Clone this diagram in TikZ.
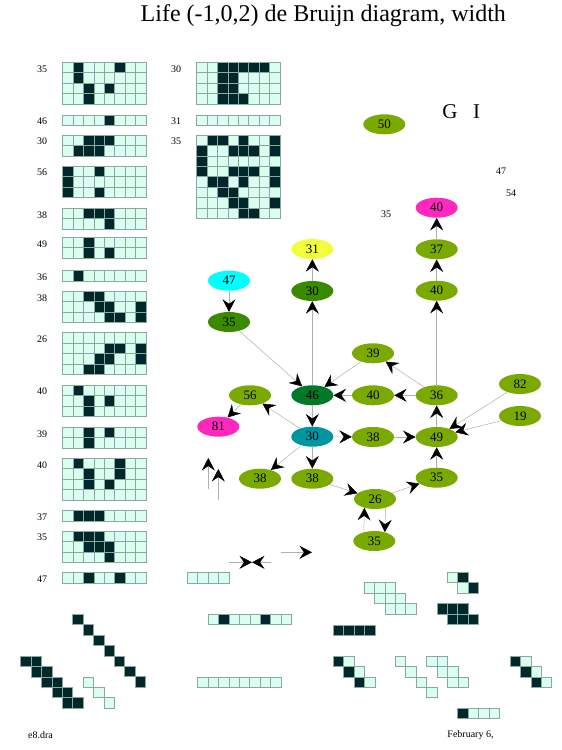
\documentclass[tikz,border=0pt]{standalone}
\usepackage{fontspec}
\setmainfont{Liberation Serif}
\usetikzlibrary{arrows.meta,shapes.geometric}
\definecolor{olivec}{RGB}{122,170,0}
\definecolor{dkgreen}{RGB}{58,138,0}
\definecolor{grn46}{RGB}{0,122,40}
\definecolor{tealc}{RGB}{0,150,160}
\definecolor{cyanc}{RGB}{0,255,255}
\definecolor{magc}{RGB}{255,40,190}
\definecolor{yelc}{RGB}{240,255,60}
\definecolor{cellL}{RGB}{218,255,240}
\definecolor{cellD}{RGB}{0,40,42}
\definecolor{cellE}{RGB}{140,168,158}
\definecolor{edgec}{RGB}{175,175,175}
\tikzset{
  lightcell/.style={fill=cellL,draw=cellE,line width=0.5pt},
  darkcell/.style={fill=cellD,draw=cellE,line width=0.5pt},
  ell/.style={ellipse,minimum width=42pt,minimum height=20pt,inner sep=0pt,font=\fontsize{13}{14}\selectfont},
  edge/.style={draw=edgec,line width=0.5pt,-{Stealth[length=12.5pt,width=13pt,inset=4.5pt,color=black]}},
  lab/.style={inner sep=0pt,font=\fontsize{10}{11}\selectfont},
}
\newcommand\cagrid[4]{%
  \foreach \rr in {1,...,#3}{\foreach \cc in {0,...,7}{\draw[lightcell] ({#1+\cc*10.4},{#2+(\rr-1)*10.4}) rectangle ++(10.4,10.4);}}%
  \foreach \cc/\rr in {#4}{\draw[darkcell] ({#1+\cc*10.4},{#2+\rr*10.4}) rectangle ++(10.4,10.4);}}
\newcommand\lightrow[3]{\foreach \cc in {1,...,#3}{\draw[lightcell] ({#1+(\cc-1)*10.4},#2) rectangle ++(10.4,10.4);}}
\newcommand\Lcell[2]{\draw[lightcell] (#1,#2) rectangle ++(10.4,10.4);}
\newcommand\Dcell[2]{\draw[darkcell] (#1,#2) rectangle ++(10.4,10.4);}
\begin{document}
\begin{tikzpicture}[x=1pt,y=-1pt]
\useasboundingbox (0,0) rectangle (562,750);
% title
\node[inner sep=0pt,font=\fontsize{24}{26}\selectfont] (title) at (323.3,16) {Life (-1,0,2) de Bruijn diagram, width};
\node[inner sep=0pt,font=\fontsize{21}{22}\selectfont] (gG) at (450,111.7) {G};
\node[inner sep=0pt,font=\fontsize{21}{22}\selectfont] (gI) at (476.7,111.7) {I};
% left grids
\def\lx{62.7}
\cagrid{\lx}{62.3}{4}{1/0,5/0,1/1,2/2,4/2,2/3}      \node[lab] (l1) at (42,68.8) {35};
\cagrid{\lx}{115}{1}{4/0}                            \node[lab] (l2) at (42,121.5) {46};
\cagrid{\lx}{135}{2}{2/0,3/0,4/0,1/1,2/1,3/1}        \node[lab] (l3) at (42,141.5) {30};
\cagrid{\lx}{166}{3}{0/0,3/0,0/1,0/2,3/2}            \node[lab] (l4) at (42,172.5) {56};
\cagrid{\lx}{208.3}{2}{2/0,3/0,4/0,4/1}              \node[lab] (l5) at (42,214.8) {38};
\cagrid{\lx}{237.3}{2}{2/0,2/1,4/1}                  \node[lab] (l6) at (42,243.8) {49};
\cagrid{\lx}{270.7}{1}{1/0}                          \node[lab] (l7) at (42,277.2) {36};
\cagrid{\lx}{291.3}{3}{2/0,3/0,3/1,4/1,7/1,4/2,5/2,7/2} \node[lab] (l8) at (42,297.8) {38};
\cagrid{\lx}{332.7}{4}{4/1,5/1,7/1,3/2,4/2,7/2,2/3,3/3} \node[lab] (l9) at (42,339.2) {26};
\cagrid{\lx}{385}{3}{1/0,2/1,4/1,2/2}                \node[lab] (l10) at (42,391.5) {40};
\cagrid{\lx}{427.3}{2}{2/0,4/0,2/1}                  \node[lab] (l11) at (42,433.8) {39};
\cagrid{\lx}{458.3}{4}{1/0,5/0,2/1,5/1,2/2,4/2}      \node[lab] (l12) at (42,464.8) {40};
\cagrid{\lx}{510.7}{1}{1/0,2/0,3/0}                  \node[lab] (l13) at (42,517.2) {37};
\cagrid{\lx}{531}{3}{1/0,2/0,3/0,2/1,3/1,4/1,4/2}    \node[lab] (l14) at (42,537.5) {35};
\cagrid{\lx}{572.7}{1}{2/0,5/0}                      \node[lab] (l15) at (42,579.2) {47};
% middle grids
\def\mx{196.7}
\cagrid{\mx}{62.3}{4}{2/0,3/0,4/0,5/0,6/0,2/1,3/1,2/2,3/2,2/3,3/3,4/3} \node[lab] (m1) at (176,68.8) {30};
\lightrow{\mx}{115}{8}                               \node[lab] (m2) at (176,121.5) {31};
\cagrid{\mx}{135}{8}{1/0,2/0,4/0,7/0,0/1,3/1,4/1,5/1,7/1,0/2,0/3,3/3,4/3,5/3,7/3,1/4,2/4,4/4,7/4,2/5,3/5,3/6,4/6,7/6,4/7,5/7}
\node[lab] (m3) at (176,141.5) {35};
% loose labels
\node[lab] (t47) at (501,171.7) {47};
\node[lab] (t54) at (511,193.3) {54};
\node[lab] (t35) at (386,214.3) {35};
\node[lab] (fn) at (40.5,735) {e8.dra};
\node[lab] (dt) at (470.5,735) {February 6,};
% graph nodes
\node[ell,fill=olivec] (n50) at (384.3,124.3) {50};
\node[ell,fill=magc] (n40m) at (436.7,207.7) {40};
\node[ell,fill=olivec] (n37) at (436.7,249.3) {37};
\node[ell,fill=olivec] (n40u) at (436.7,290.7) {40};
\node[ell,fill=yelc] (n31) at (312.3,249) {31};
\node[ell,fill=dkgreen] (n30u) at (312.3,291) {30};
\node[ell,fill=cyanc] (n47) at (229,280.7) {47};
\node[ell,fill=dkgreen] (n35u) at (229,322) {35};
\node[ell,fill=olivec] (n39) at (373,353.3) {39};
\node[ell,fill=grn46] (n46) at (312.3,395.3) {46};
\node[ell,fill=olivec] (n40) at (373,395.3) {40};
\node[ell,fill=olivec] (n36) at (436.7,395.3) {36};
\node[ell,fill=olivec] (n56) at (250,395.3) {56};
\node[ell,fill=olivec] (n82) at (520,384) {82};
\node[ell,fill=olivec] (n19) at (520,416) {19};
\node[ell,fill=magc] (n81) at (218.3,426.7) {81};
\node[ell,fill=tealc] (n30t) at (312.3,436.7) {30};
\node[ell,fill=olivec] (n38r) at (373,437) {38};
\node[ell,fill=olivec] (n49) at (436.7,437) {49};
\node[ell,fill=olivec] (n38l) at (260,478.7) {38};
\node[ell,fill=olivec] (n38m) at (312.3,478.7) {38};
\node[ell,fill=olivec] (n35r) at (436.7,477.7) {35};
\node[ell,fill=olivec] (n26) at (375,499) {26};
\node[ell,fill=olivec] (n35b) at (374.3,541) {35};
% edges
\draw[edge] (n47) -- (n35u);
\draw[edge] (n35u) -- (n46);
\draw[edge] (n46) -- (n30u);
\draw[edge] (n30u) -- (n31);
\draw[edge] (n39) -- (n46);
\draw[edge] (n40) -- (n46);
\draw[edge] (n46) -- (n30t);
\draw[edge] (n30t) -- (n56);
\draw[edge] (n56) -- (n81);
\draw[edge] (n30t) -- (n38r);
\draw[edge] (n30t) -- (n38l);
\draw[edge] (n30t) -- (n38m);
\draw[edge] (n38m) -- (n26);
\draw[edge] (n38r) -- (n49);
\draw[edge] (n36) -- (n40);
\draw[edge] (n36) -- (n39);
\draw[edge] (n36) -- (n40u);
\draw[edge] (n40u) -- (n37);
\draw[edge] (n37) -- (n40m);
\draw[edge] (n49) -- (n36);
\draw[edge] (n35r) -- (n49);
\draw[edge] (n26) -- (n35r);
\draw[edge] (n26.320) -- (n35b.40);
\draw[edge] (n35b.140) -- (n26.220);
\draw[edge] (n82) -- (n49);
\draw[edge] (n19) -- (n49);
% loose arrows
\coordinate (ua1) at (208.3,489); \coordinate (ua2) at (208.3,458);
\coordinate (ub1) at (218.3,500); \coordinate (ub2) at (218.3,469);
\draw[edge] (ua1) -- (ua2);
\draw[edge] (ub1) -- (ub2);
\coordinate (ha1) at (229.3,562.3); \coordinate (ha2) at (252,562.3);
\coordinate (hb1) at (270.5,562.3); \coordinate (hb2) at (252,562.3);
\draw[edge] (ha1) -- (ha2);
\draw[edge] (hb1) -- (hb2);
\coordinate (hc1) at (280.7,552.3); \coordinate (hc2) at (312,552.3);
\draw[edge] (hc1) -- (hc2);
% bottom patterns
\lightrow{187.3}{572.7}{4}
\cagrid{208.3}{614.3}{1}{1/0,5/0}
\lightrow{197.7}{677}{8}
\foreach \k in {0,...,6}{\Dcell{72.7+10.4*\k}{614.3+10.4*\k}}
\foreach \k in {0,...,4}{\Dcell{20.7+10.4*\k}{656+10.4*\k}\Dcell{31.1+10.4*\k}{656+10.4*\k}}
\Lcell{83.3}{677}\Lcell{93.7}{687.3}\Lcell{104}{697.7}
% stair light
\Lcell{364}{582.7}\Lcell{374.4}{582.7}\Lcell{384.8}{582.7}
\Lcell{374.4}{593.1}\Lcell{384.8}{593.1}\Lcell{395.2}{593.1}
\Lcell{384.8}{603.5}\Lcell{395.2}{603.5}\Lcell{405.6}{603.5}
% top right small
\Lcell{447.3}{572.3}\Dcell{457.7}{572.3}
\Lcell{457.7}{582.7}\Dcell{468.1}{582.7}
% dark block
\Dcell{436.9}{603.7}\Dcell{447.3}{603.7}\Dcell{457.7}{603.7}
\Dcell{447.3}{614.1}\Dcell{457.7}{614.1}\Dcell{468.1}{614.1}
% dark bar
\Dcell{333.3}{625}\Dcell{343.7}{625}\Dcell{354.1}{625}\Dcell{364.5}{625}
% dark+light diagonal
\Dcell{333.3}{656}\Lcell{343.7}{656}
\Dcell{343.7}{666.4}\Lcell{354.1}{666.4}
\Dcell{354.1}{676.8}\Lcell{364.5}{676.8}
% light diagonal
\Lcell{395.3}{656}\Lcell{405.7}{666.4}\Lcell{416.1}{676.8}\Lcell{426.5}{687.2}
% light stairs
\Lcell{426.7}{656}\Lcell{437.1}{656}
\Lcell{437.1}{666.4}\Lcell{447.5}{666.4}
\Lcell{447.5}{676.8}\Lcell{457.9}{676.8}
% right diagonal
\Dcell{510}{656}\Lcell{520.4}{656}
\Dcell{520.4}{666.4}\Lcell{530.8}{666.4}
\Dcell{530.8}{676.8}\Lcell{541.2}{676.8}
% bottom row
\Dcell{457.7}{708}\Lcell{468.1}{708}\Lcell{478.5}{708}\Lcell{488.9}{708}
\end{tikzpicture}
\end{document}
